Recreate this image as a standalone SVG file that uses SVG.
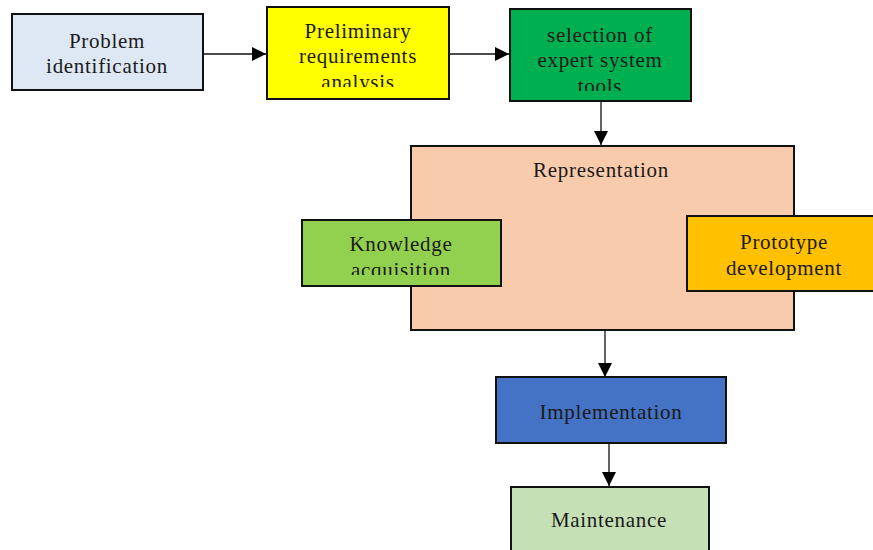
<svg xmlns="http://www.w3.org/2000/svg" width="873" height="550" viewBox="0 0 873 550">
<style>
.box{stroke:#111;stroke-width:2}
.c{stroke:#111;stroke-width:1.3;fill:none}
</style>
<defs>
<marker id="ah" viewBox="0 0 14 14" refX="14" refY="7" markerWidth="14" markerHeight="14" markerUnits="userSpaceOnUse" orient="auto">
<path d="M0,0 L14,7 L0,14 Z" fill="#000"/>
</marker>
<clipPath id="cp1"><rect x="267" y="7" width="182" height="80"/></clipPath>
<clipPath id="cp2"><rect x="510" y="9" width="181" height="82"/></clipPath>
<clipPath id="cp3"><rect x="302" y="220" width="199" height="55"/></clipPath>
</defs>
<rect width="873" height="550" fill="#fff"/>
<g id="connectors">
<line class="c" x1="203" y1="54" x2="266" y2="54" marker-end="url(#ah)"/>
<line class="c" x1="449" y1="54" x2="509" y2="54" marker-end="url(#ah)"/>
<line class="c" x1="601" y1="101" x2="601" y2="145" marker-end="url(#ah)"/>
<line class="c" x1="605" y1="330" x2="605" y2="377" marker-end="url(#ah)"/>
<line class="c" x1="609" y1="443" x2="609" y2="486" marker-end="url(#ah)"/>
</g>
<g font-family="Liberation Serif, serif" font-size="21" letter-spacing="0.7" fill="#1a1a1a" text-anchor="middle">
<g id="problem">
<rect class="box" x="12" y="14" width="191" height="76" fill="#dde8f4"/>
<text x="107" y="48">Problem</text>
<text x="107" y="73">identification</text>
</g>
<g id="preliminary">
<rect class="box" x="267" y="7" width="182" height="92" fill="#ffff00"/>
<g clip-path="url(#cp1)">
<text x="358" y="38">Preliminary</text>
<text x="358" y="63">requirements</text>
<text x="358" y="89">analysis</text>
</g>
</g>
<g id="selection">
<rect class="box" x="510" y="9" width="181" height="92" fill="#00b050"/>
<g clip-path="url(#cp2)">
<text x="600" y="42">selection of</text>
<text x="600" y="67">expert system</text>
<text x="600" y="93">tools</text>
</g>
</g>
<g id="representation">
<rect class="box" x="411" y="146" width="383" height="184" fill="#f8cbad"/>
<text x="601" y="177">Representation</text>
</g>
<g id="knowledge">
<rect class="box" x="302" y="220" width="199" height="66" fill="#92d050"/>
<g clip-path="url(#cp3)">
<text x="401" y="251">Knowledge</text>
<text x="401" y="277">acquisition</text>
</g>
</g>
<g id="prototype">
<rect class="box" x="687" y="216" width="195" height="75" fill="#ffc000"/>
<text x="784" y="249">Prototype</text>
<text x="784" y="275">development</text>
</g>
<g id="implementation">
<rect class="box" x="496" y="377" width="230" height="66" fill="#4472c4"/>
<text x="611" y="419">Implementation</text>
</g>
<g id="maintenance">
<rect class="box" x="511" y="487" width="198" height="80" fill="#c5e0b4"/>
<text x="609" y="527">Maintenance</text>
</g>
</g>
</svg>
